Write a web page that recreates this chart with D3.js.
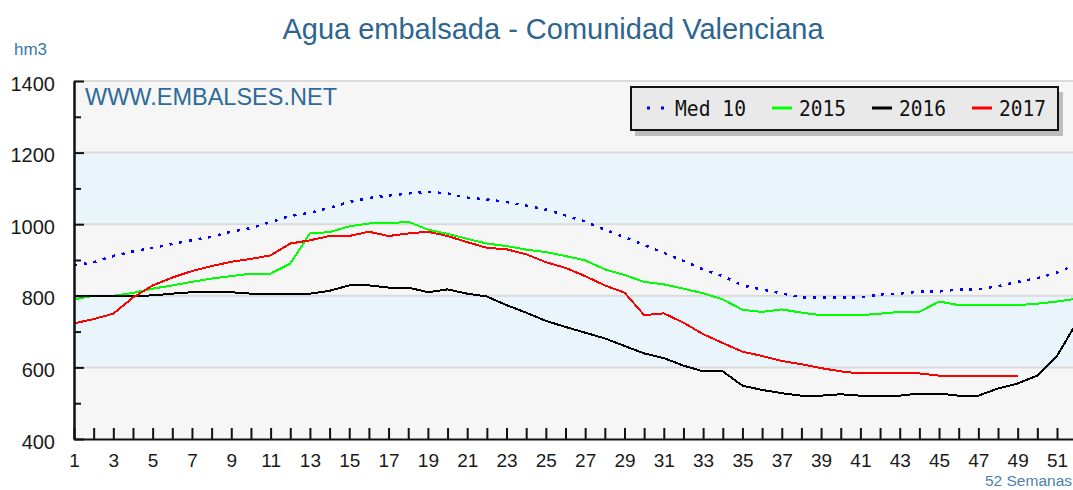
<!DOCTYPE html>
<html lang="es">
<head>
    <meta charset="utf-8">
    <title>Agua embalsada - Comunidad Valenciana</title>
    <script src="https://d3js.org/d3.v7.min.js" charset="utf-8"></script>
    <style>
        body { margin: 0; background: #fff; }
        svg { display: block; font-family: "Liberation Sans", Arial, sans-serif; }
    </style>
</head>
<body>
    <div id="chart-holder"></div>
	<script type="text/javascript">
// weeks of the hydrological year
var weeks = [1,2,3,4,5,6,7,8,9,10,11,12,13,14,15,16,17,18,19,20,21,22,23,24,25,26,
             27,28,29,30,31,32,33,34,35,36,37,38,39,40,41,42,43,44,45,46,47,48,49,50,51,52];
var weekLabels = [1,3,5,7,9,11,13,15,17,19,21,23,25,27,29,31,33,35,37,39,41,43,45,47,49,51];
var yMinorTicks = [500,700,900,1100,1300];
var yMajorTicks = [400,600,800,1000,1200,1400];

// hm3
var med10 = [885,894,911,924,934,945,955,965,979,989,1006,1023,1032,1046,1062,1073,1080,1086,1090,1086,
             1074,1069,1062,1052,1041,1025,1007,985,964,942,920,897,874,855,829,818,807,796,795,795,
             795,804,806,812,812,818,818,827,839,849,865,888];
var y2015 = [790,800,800,808,820,829,839,848,855,862,862,890,974,978,994,1002,1002,1007,985,973,
             959,946,939,929,922,911,899,874,858,839,832,820,807,790,761,755,762,753,746,746,
             746,750,755,755,784,774,774,774,774,778,784,792];
var y2016 = [798,800,800,800,801,806,810,810,810,806,806,806,806,814,829,829,823,823,810,818,
             806,798,774,753,730,713,697,681,660,639,626,605,589,589,549,537,528,521,521,525,
             521,521,521,527,527,521,521,541,555,577,632,725];
var y2017 = [723,735,750,795,829,851,869,883,895,903,913,946,955,967,967,979,967,974,979,967,
             950,934,930,916,894,878,855,829,809,746,751,725,693,668,644,632,618,609,598,589,
             583,583,583,583,577,577,577,577,577];

var width = 1073;
var height = 490;

var svg = d3.select( "#chart-holder" )
    .append( "svg" )
    .attr( "width", width )
    .attr( "height", height );

var x = d3.scaleLinear().domain( [1, 52] ).range( [74, 74 + 51 * 19.66] );
var y = d3.scaleLinear().domain( [400, 1400] ).range( [439, 81] );

// plot background, alternating bands every 200
var bands = svg.append( "g" );
bands.selectAll( "rect" )
    .data( yMajorTicks.slice( 0, -1 ) )
    .enter()
    .append( "rect" )
    .attr( "x", x( 1 ) )
    .attr( "width", width - x( 1 ) )
    .attr( "y", function(d){ return y( d + 200 ); } )
    .attr( "height", function(d){ return y( d ) - y( d + 200 ); } )
    .attr( "fill", function(d, i){ return i % 2 ? "#e9f4fb" : "#f6f6f6"; } );

bands.selectAll( "line" )
    .data( yMajorTicks.slice( 1 ) )
    .enter()
    .append( "line" )
    .attr( "x1", x( 1 ) )
    .attr( "x2", width )
    .attr( "y1", function(d){ return y( d ); } )
    .attr( "y2", function(d){ return y( d ); } )
    .attr( "stroke", "#dadada" )
    .attr( "stroke-width", 2 );

// titles
svg.append( "text" )
    .attr( "x", 553 )
    .attr( "y", 39 )
    .attr( "text-anchor", "middle" )
    .attr( "font-size", "29px" )
    .attr( "fill", "#2c6590" )
    .text( "Agua embalsada - Comunidad Valenciana" );

svg.append( "text" )
    .attr( "x", 14 )
    .attr( "y", 55 )
    .attr( "font-size", "17px" )
    .attr( "fill", "#3a78a6" )
    .text( "hm3" );

svg.append( "text" )
    .attr( "x", 85 )
    .attr( "y", 105 )
    .attr( "font-size", "23.5px" )
    .attr( "fill", "#2f6a98" )
    .text( "WWW.EMBALSES.NET" );

svg.append( "text" )
    .attr( "x", 1072 )
    .attr( "y", 486 )
    .attr( "text-anchor", "end" )
    .attr( "font-size", "15.5px" )
    .attr( "fill", "#4a82ad" )
    .text( "52 Semanas" );

//SERIES
var line = d3.line()
    .x( function(d, i){ return x( weeks[i] ); } )
    .y( function(d){ return y( d ); } );

var series = svg.append( "g" ).attr( "shape-rendering", "crispEdges" );

series.append( "path" ).datum( med10 )
    .attr( "fill", "none" )
    .attr( "stroke", "#0000ff" )
    .attr( "stroke-width", 2.5 )
    .attr( "stroke-dasharray", "3,6.8" )
    .attr( "d", line );

series.append( "path" ).datum( y2015 )
    .attr( "fill", "none" )
    .attr( "stroke", "#00ff00" )
    .attr( "stroke-width", 2 )
    .attr( "d", line );

series.append( "path" ).datum( y2016 )
    .attr( "fill", "none" )
    .attr( "stroke", "#000000" )
    .attr( "stroke-width", 2 )
    .attr( "d", line );

series.append( "path" ).datum( y2017 )
    .attr( "fill", "none" )
    .attr( "stroke", "#ff0000" )
    .attr( "stroke-width", 2 )
    .attr( "d", line );

//AXES
var yMinor = svg.append( "g" )
    .attr( "transform", "translate(" + x( 1 ) + ",0)" )
    .call( d3.axisLeft( y ).tickValues( yMinorTicks ).tickSize( -7 ).tickSizeOuter( 0 ).tickFormat( "" ) );

var yMajor = svg.append( "g" )
    .attr( "transform", "translate(" + x( 1 ) + ",0)" )
    .call( d3.axisLeft( y ).tickValues( yMajorTicks ).tickSize( -10 ).tickSizeOuter( 0 )
        .tickPadding( 19 ).tickFormat( d3.format( "d" ) ) );

yMajor.selectAll( "text" )
    .attr( "dy", "0.45em" )
    .attr( "font-size", "20px" )
    .attr( "font-family", "Liberation Sans, Arial, sans-serif" )
    .attr( "fill", "#1a1a1a" );

var xAxis = svg.append( "g" )
    .attr( "transform", "translate(0," + y( 400 ) + ")" )
    .call( d3.axisBottom( x ).tickValues( weeks ).tickSize( -11 ).tickSizeOuter( 0 ).tickPadding( 15 )
        .tickFormat( function(d){ return weekLabels.indexOf( d ) >= 0 ? d : ""; } ) );

xAxis.selectAll( "text" )
    .attr( "font-size", "19px" )
    .attr( "font-family", "Liberation Sans, Arial, sans-serif" )
    .attr( "fill", "#1a1a1a" );

svg.selectAll( ".domain, .tick line" )
    .attr( "stroke", "#111" )
    .attr( "stroke-width", 2 );

//LEGEND
var legend = svg.append( "g" );
legend.append( "rect" )
    .attr( "x", 635 ).attr( "y", 92 )
    .attr( "width", 428 ).attr( "height", 44 )
    .attr( "fill", "#bdbdbd" );
legend.append( "rect" )
    .attr( "x", 631 ).attr( "y", 87 )
    .attr( "width", 427 ).attr( "height", 43 )
    .attr( "fill", "#e9e9e9" )
    .attr( "stroke", "#111" )
    .attr( "stroke-width", 2 );

var legendItems = [
    { name: "Med 10", color: "#0000ff", dotted: true, x: 647, w: 71 },
    { name: "2015", color: "#00ff00", dotted: false, x: 772, w: 47 },
    { name: "2016", color: "#000000", dotted: false, x: 872, w: 47 },
    { name: "2017", color: "#ff0000", dotted: false, x: 972, w: 47 }
];

legendItems.forEach( function(d){
    if ( d.dotted ) {
        legend.append( "line" )
            .attr( "x1", d.x ).attr( "x2", d.x + 19 )
            .attr( "y1", 108 ).attr( "y2", 108 )
            .attr( "stroke", d.color )
            .attr( "stroke-width", 3 )
            .attr( "stroke-dasharray", "3,11" );
    } else {
        legend.append( "line" )
            .attr( "x1", d.x ).attr( "x2", d.x + 20 )
            .attr( "y1", 108 ).attr( "y2", 108 )
            .attr( "stroke", d.color )
            .attr( "stroke-width", 3 );
    }
    legend.append( "text" )
        .attr( "x", d.x + ( d.dotted ? 28 : 27 ) )
        .attr( "y", 116 )
        .attr( "font-family", "DejaVu Sans Mono, monospace" )
        .attr( "font-size", "21px" )
        .attr( "textLength", d.w )
        .attr( "lengthAdjust", "spacingAndGlyphs" )
        .attr( "fill", "#111" )
        .text( d.name );
});
	</script>
</body>
</html>
